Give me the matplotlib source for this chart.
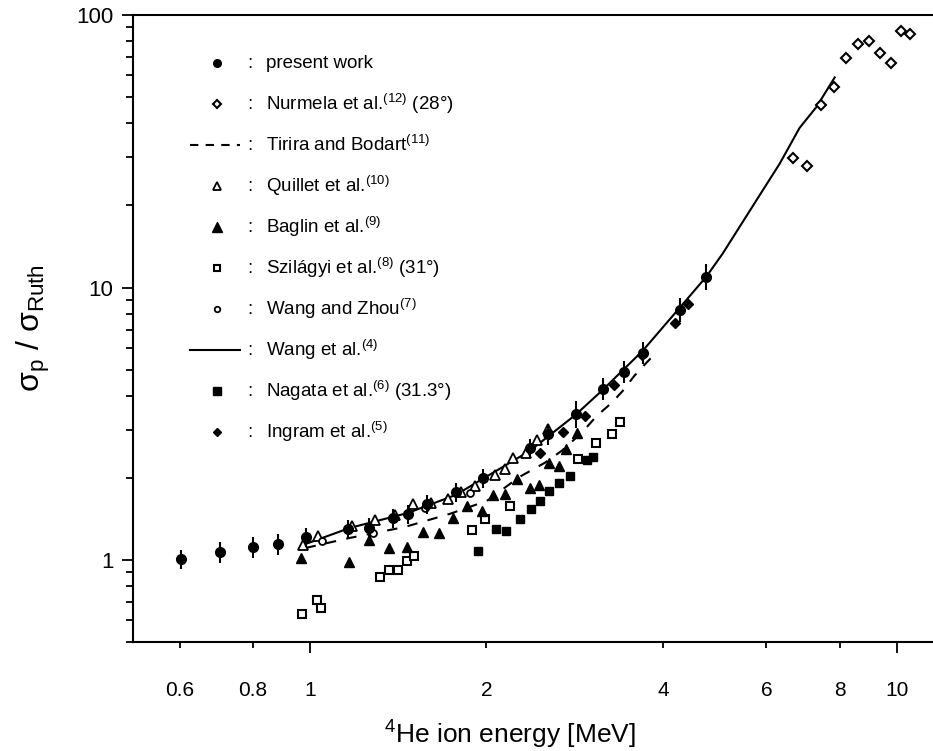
import numpy as np
import matplotlib.pyplot as plt
from matplotlib.ticker import FixedLocator, FixedFormatter, NullFormatter

plt.rcParams['font.family'] = ['Liberation Sans', 'DejaVu Sans']
plt.rcParams['mathtext.fontset'] = 'custom'
plt.rcParams['mathtext.rm'] = 'Liberation Sans'
plt.rcParams['mathtext.it'] = 'Liberation Sans:italic'
plt.rcParams['mathtext.bf'] = 'Liberation Sans:bold'

# present work (with error bars, relative)
present_E = [0.603, 0.703, 0.800, 0.882, 0.984, 1.161, 1.260, 1.385, 1.469, 1.582,
             1.773, 1.971, 2.371, 2.544, 2.840, 3.156, 3.427, 3.692, 4.269, 4.728]
present_R = [1.008, 1.070, 1.116, 1.145, 1.215, 1.300, 1.311, 1.427, 1.476, 1.607,
             1.778, 2.002, 2.581, 2.905, 3.442, 4.253, 4.911, 5.768, 8.300, 10.97]
present_err = [0.08, 0.09, 0.09, 0.09, 0.08, 0.08, 0.09, 0.08, 0.08, 0.08,
               0.08, 0.08, 0.08, 0.09, 0.11, 0.09, 0.09, 0.09, 0.10, 0.11]

# Nurmela et al. (28 deg)
nurmela_E = [6.65, 7.03, 7.42, 7.81, 8.19, 8.58, 8.96, 9.36, 9.77, 10.16, 10.52]
nurmela_R = [29.8, 27.9, 46.7, 54.4, 69.5, 78.2, 80.2, 72.5, 66.6, 87.3, 85.1]

# Tirira and Bodart (dashed curve)
tirira_E = [0.984, 1.170, 1.452, 1.731, 2.002, 2.277, 2.514, 2.687, 2.906, 3.084,
            3.270, 3.414, 3.574, 3.747, 3.917]
tirira_R = [1.107, 1.205, 1.322, 1.476, 1.647, 2.018, 2.273, 2.516, 2.929, 3.383,
            3.776, 4.175, 4.745, 5.296, 5.86]

# Quillet et al.
quillet_E = [0.973, 1.032, 1.179, 1.290, 1.396, 1.498, 1.607, 1.718, 1.808, 1.910,
             2.066, 2.147, 2.217, 2.333, 2.437, 2.544]
quillet_R = [1.135, 1.225, 1.333, 1.403, 1.463, 1.607, 1.620, 1.676, 1.778, 1.870,
             2.052, 2.159, 2.370, 2.473, 2.757, 3.030]

# Baglin et al.
baglin_E = [0.965, 1.165, 1.260, 1.363, 1.462, 1.558, 1.659, 1.753, 1.851, 1.963,
            2.050, 2.147, 2.254, 2.371, 2.455, 2.553, 2.655, 2.738, 2.848]
baglin_R = [1.017, 0.983, 1.184, 1.107, 1.116, 1.267, 1.256, 1.427, 1.580, 1.514,
            1.734, 1.748, 1.985, 1.839, 1.887, 2.273, 2.215, 2.560, 2.929]

# Szilagyi et al. (31 deg)
szilagyi_E = [0.969, 1.028, 1.044, 1.316, 1.363, 1.412, 1.463, 1.504, 1.887, 1.986,
              2.192, 2.860, 3.068, 3.270, 3.372]
szilagyi_R = [0.633, 0.713, 0.666, 0.866, 0.919, 0.919, 0.992, 1.034, 1.289, 1.415,
              1.580, 2.350, 2.690, 2.905, 3.214]

# Wang and Zhou
wangzhou_E = [1.048, 1.280, 1.570, 1.873]
wangzhou_R = [1.175, 1.256, 1.553, 1.764]

# Wang et al. (solid curve)
wang_E = [0.984, 1.170, 1.469, 1.773, 1.971, 2.371, 2.840, 3.156, 3.692, 4.405,
          4.74, 5.05, 5.91, 6.32, 6.83, 7.30, 7.84]
wang_R = [1.145, 1.311, 1.488, 1.733, 1.985, 2.515, 3.416, 4.21, 5.86, 9.12,
          10.97, 13.3, 22.7, 28.5, 38.5, 46.0, 59.0]

# Nagata et al. (31.3 deg)
nagata_E = [1.932, 2.073, 2.157, 2.279, 2.379, 2.465, 2.554, 2.657, 2.772, 2.962, 3.034]
nagata_R = [1.079, 1.300, 1.278, 1.415, 1.540, 1.648, 1.794, 1.919, 2.036, 2.330, 2.391]

# Ingram et al.
ingram_E = [2.465, 2.698, 2.942, 3.296, 3.678, 4.186, 4.405]
ingram_R = [2.473, 2.955, 3.383, 4.399, 5.672, 7.436, 8.735]

x_major = [1, 10]
x_minor = [0.6, 0.8, 2, 4, 6, 8]
x_minor_labels = ['0.6', '0.8', '2', '4', '6', '8']

fig = plt.figure(figsize=(9.33, 7.51), dpi=100)
ax = fig.add_axes([0.1426, 0.1451, 0.8574, 0.8349])
ax.set_xscale('log')
ax.set_yscale('log')
ax.set_xlim(0.5, 11.53)
ax.set_ylim(0.5, 100)

ax.plot(wang_E, wang_R, '-', color='k', lw=1.5, zorder=2)
ax.plot(tirira_E, tirira_R, '--', color='k', lw=1.5, dashes=(5, 5), zorder=2)

ax.plot(szilagyi_E, szilagyi_R, 's', ms=5.5, mfc='white', mec='k', mew=1.5, ls='none', zorder=3)
ax.plot(nagata_E, nagata_R, 's', ms=6, mfc='k', mec='k', ls='none', zorder=3)
ax.plot(baglin_E, baglin_R, '^', ms=7.5, mfc='k', mec='k', ls='none', zorder=3)
ax.plot(quillet_E, quillet_R, '^', ms=7.5, mfc='white', mec='k', mew=1.3, ls='none', zorder=3)
ax.plot(wangzhou_E, wangzhou_R, 'o', ms=5, mfc='white', mec='k', mew=1.3, ls='none', zorder=3)
ax.plot(nurmela_E, nurmela_R, 'D', ms=5.6, mfc='white', mec='k', mew=1.5, ls='none', zorder=3)
ax.plot(ingram_E, ingram_R, 'D', ms=5, mfc='k', mec='k', ls='none', zorder=4)

pe = np.array(present_E)
pr = np.array(present_R)
perr = np.array(present_err) * pr
ax.errorbar(pe, pr, yerr=perr, fmt='o', ms=7, color='k', ecolor='k', elinewidth=1.5,
            capsize=0, zorder=5)

# axes styling
ax.spines['right'].set_visible(False)
for s in ['left', 'bottom', 'top']:
    ax.spines[s].set_linewidth(1.5)

ax.xaxis.set_major_locator(FixedLocator(x_major))
ax.xaxis.set_major_formatter(FixedFormatter(['1', '10']))
ax.xaxis.set_minor_locator(FixedLocator(x_minor))
ax.xaxis.set_minor_formatter(FixedFormatter(x_minor_labels))
ax.tick_params(axis='x', which='major', direction='out', length=8, width=1.3,
               labelsize=15, pad=20, top=False)
ax.tick_params(axis='x', which='minor', direction='out', length=4, width=1.3,
               labelsize=15, pad=24, top=False)
ax.tick_params(axis='y', which='major', direction='out', length=8, width=1.3,
               labelsize=16, pad=6, right=False)
ax.tick_params(axis='y', which='minor', direction='out', length=5, width=1.3, right=False)
ax.yaxis.set_major_locator(FixedLocator([1, 10, 100]))
ax.yaxis.set_major_formatter(FixedFormatter(['1', '10', '100']))
ax.yaxis.set_minor_formatter(NullFormatter())

ax.set_ylabel(r'σ$_\mathregular{p}$ / σ$_\mathregular{Ruth}$', fontsize=23)
ax.yaxis.set_label_coords(-0.101, 0.5)
ax.set_xlabel(r'$^\mathregular{4}$He ion energy [MeV]', fontsize=19)
ax.xaxis.set_label_coords(0.471, -0.122)

# legend drawn by hand
legend_items = [
    ('pw', 'present work'),
    ('nur', r'Nurmela et al.$^\mathregular{(12)}$ (28°)'),
    ('dash', r'Tirira and Bodart$^\mathregular{(11)}$'),
    ('qui', r'Quillet et al.$^\mathregular{(10)}$'),
    ('bag', r'Baglin et al.$^\mathregular{(9)}$'),
    ('szi', r'Szilágyi et al.$^\mathregular{(8)}$ (31°)'),
    ('wz', r'Wang and Zhou$^\mathregular{(7)}$'),
    ('line', r'Wang et al.$^\mathregular{(4)}$'),
    ('nag', r'Nagata et al.$^\mathregular{(6)}$ (31.3°)'),
    ('ing', r'Ingram et al.$^\mathregular{(5)}$'),
]
styles = {
    'pw': dict(marker='o', ms=5.5, mfc='k', mec='k'),
    'nur': dict(marker='D', ms=4.5, mfc='white', mec='k', mew=1.5),
    'qui': dict(marker='^', ms=6, mfc='white', mec='k', mew=1.3),
    'bag': dict(marker='^', ms=6.5, mfc='k', mec='k'),
    'szi': dict(marker='s', ms=5, mfc='white', mec='k', mew=1.5),
    'wz': dict(marker='o', ms=4, mfc='white', mec='k', mew=1.3),
    'nag': dict(marker='s', ms=5.5, mfc='k', mec='k'),
    'ing': dict(marker='D', ms=4.5, mfc='k', mec='k'),
}
row0 = 0.9234
step = 0.0654
for i, (kind, label) in enumerate(legend_items):
    yy = row0 - i * step
    if kind == 'dash':
        ax.plot([0.0713, 0.1338], [yy, yy], '--', color='k', lw=1.5, dashes=(4, 3.5),
                transform=ax.transAxes, clip_on=False)
    elif kind == 'line':
        ax.plot([0.0713, 0.1338], [yy, yy], '-', color='k', lw=1.5,
                transform=ax.transAxes, clip_on=False)
    else:
        ax.plot([0.105], [yy], ls='none', transform=ax.transAxes, clip_on=False,
                **styles[kind])
    ax.text(0.146, yy, ':', transform=ax.transAxes, fontsize=13.5, va='center', ha='center')
    ax.text(0.166, yy, label, transform=ax.transAxes, fontsize=13.5, va='center', ha='left')

fig.savefig('out.png', dpi=100)
